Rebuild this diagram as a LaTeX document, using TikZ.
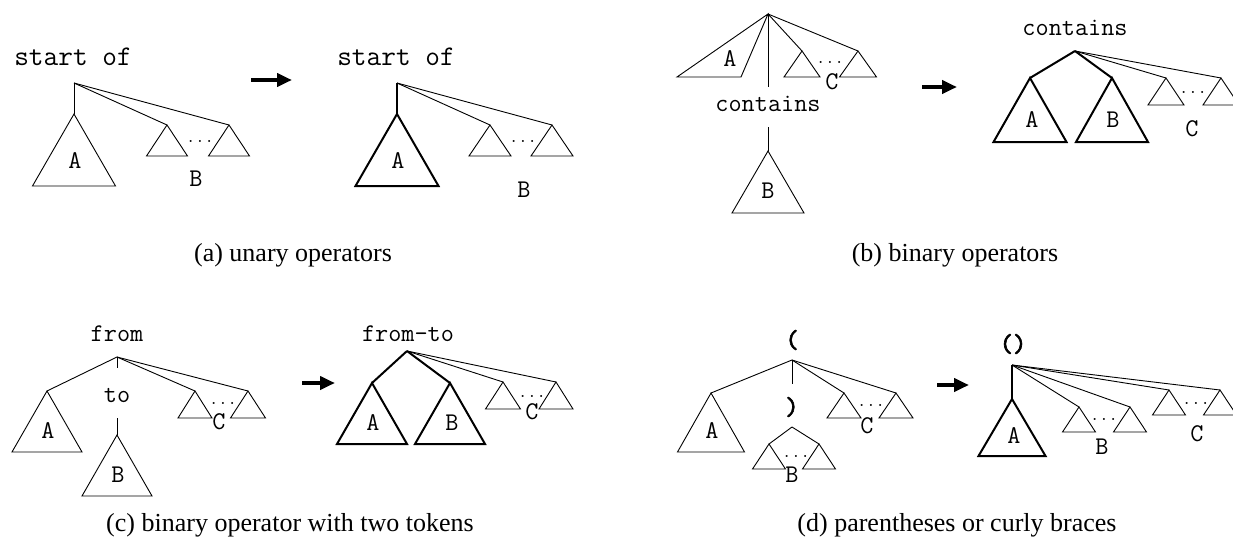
\documentclass[tikz,border=0pt]{standalone}
\usepackage{fontspec}
\setmainfont{Liberation Serif}
\newfontfamily\ttheavy[Extension=.otf,FakeBold=2.5]{lmmono10-regular}
\usetikzlibrary{arrows.meta}
\newcommand\Tri[4][tl]{\draw[#1] (#2) -- ++(-#3,#4) -- ++(2*#3,0) -- cycle;}
\tikzset{
  tl/.style={line width=0.9pt},
  tk/.style={line width=2pt},
  lab/.style={font=\fontsize{25.5}{25.5}\selectfont\ttfamily, inner sep=0pt, anchor=base},
  biglab/.style={font=\fontsize{28.5}{28.5}\selectfont\ttfamily, inner sep=0pt, anchor=base},
  parlab/.style={font=\fontsize{25.5}{25.5}\selectfont\ttheavy, inner sep=0pt},
  dts/.style={font=\fontsize{18}{18}\selectfont\ttfamily, inner sep=0pt},
  captxt/.style={font=\fontsize{26}{26}\selectfont\rmfamily, inner sep=0pt, anchor=base},
  bigarrow/.style={line width=4.5pt,-{Triangle[length=15pt,width=13pt]}}
}
\begin{document}
\begin{tikzpicture}[x=1pt,y=-1pt,line join=miter]
\useasboundingbox (0,0) rectangle (1233,546);
% ===== (a) left
\node[biglab] (aLt) at (73,65) {start of};
\coordinate (aLr) at (74,83);
\coordinate (aLa) at (74,114);
\coordinate (aLc1) at (167,125);
\coordinate (aLc2) at (229,125);
\draw[tl] (aLr) -- (aLa);
\draw[tl] (aLr) -- (aLc1);
\draw[tl] (aLr) -- (aLc2);
\Tri{aLa}{41.5}{72}
\Tri{aLc1}{20.5}{31}
\Tri{aLc2}{20.5}{31}
\node[lab] (aLA) at (75,168) {A};
\node[lab] (aLB) at (196,186) {B};
\node[dts] (aLd) at (200,141) {...};
% arrow a
\coordinate (arA1) at (251,80);
\coordinate (arA2) at (292,80);
\draw[bigarrow] (arA1) -- (arA2);
% ===== (a) right
\node[biglab] (aRt) at (396,65) {start of};
\coordinate (aRr) at (397,83);
\coordinate (aRa) at (397,114);
\coordinate (aRc1) at (490,125);
\coordinate (aRc2) at (552,125);
\draw[tk] (aRr) -- (aRa);
\draw[tl] (aRr) -- (aRc1);
\draw[tl] (aRr) -- (aRc2);
\Tri[tk]{aRa}{41.5}{72}
\Tri{aRc1}{21}{31}
\Tri{aRc2}{21}{31}
\node[lab] (aRA) at (398,168) {A};
\node[lab] (aRB) at (524,197) {B};
\node[dts] (aRd) at (523,141) {...};
\node[captxt] (capa) at (293,261) {(a) unary operators};
% ===== (b) left
\coordinate (bLr) at (768,14);
\coordinate (bLa1) at (677,77);
\coordinate (bLa2) at (741,77);
\coordinate (bLv) at (768,87);
\coordinate (bLw) at (768,127);
\coordinate (bLb) at (768,151);
\coordinate (bLc1) at (802,51);
\coordinate (bLc2) at (858,51);
\draw[tl] (bLr) -- (bLa1) -- (bLa2) -- cycle;
\draw[tl] (bLr) -- (bLv);
\draw[tl] (bLr) -- (bLc1);
\draw[tl] (bLr) -- (bLc2);
\Tri{bLc1}{18}{26}
\Tri{bLc2}{18.5}{26}
\node[lab] (bLt) at (768,111) {contains};
\draw[tl] (bLw) -- (bLb);
\Tri{bLb}{36}{62}
\node[lab] (bLA) at (730,66) {A};
\node[lab] (bLB) at (768,198) {B};
\node[lab] (bLC) at (832,89) {C};
\node[dts] (bLd) at (830,62) {...};
% arrow b
\coordinate (arB1) at (922,87);
\coordinate (arB2) at (957,87);
\draw[bigarrow] (arB1) -- (arB2);
% ===== (b) right
\node[lab] (bRt) at (1075,35) {contains};
\coordinate (bRr) at (1075,51);
\coordinate (bRa) at (1030,78);
\coordinate (bRb) at (1112,78);
\coordinate (bRc1) at (1166,78);
\coordinate (bRc2) at (1221,78);
\draw[tk] (bRr) -- (bRa);
\draw[tk] (bRr) -- (bRb);
\draw[tl] (bRr) -- (bRc1);
\draw[tl] (bRr) -- (bRc2);
\Tri[tk]{bRa}{36.5}{64}
\Tri[tk]{bRb}{36}{64}
\Tri{bRc1}{18}{27}
\Tri{bRc2}{18}{27}
\node[lab] (bRA) at (1032,127) {A};
\node[lab] (bRB) at (1113,127) {B};
\node[lab] (bRC) at (1192,136) {C};
\node[dts] (bRd) at (1193,92) {...};
\node[captxt] (capb) at (955,261) {(b) binary operators};
% ===== (c) left
\node[lab] (cLt) at (117,341) {from};
\coordinate (cLr) at (117,357);
\coordinate (cLa) at (47,391);
\coordinate (cLv) at (117,368);
\coordinate (cLw) at (117,418);
\coordinate (cLb) at (117,435);
\coordinate (cLc1) at (195,391);
\coordinate (cLc2) at (248,391);
\draw[tl] (cLr) -- (cLa);
\draw[tl] (cLr) -- (cLv);
\draw[tl] (cLr) -- (cLc1);
\draw[tl] (cLr) -- (cLc2);
\draw[tl] (cLw) -- (cLb);
\Tri{cLa}{35}{61}
\Tri{cLb}{35}{61}
\Tri{cLc1}{17}{27}
\Tri{cLc2}{17.5}{27}
\node[lab] (cLto) at (117,402) {to};
\node[lab] (cLA) at (48,438) {A};
\node[lab] (cLB) at (118,482) {B};
\node[lab] (cLC) at (219,429) {C};
\node[dts] (cLd) at (223,403) {...};
% arrow c
\coordinate (arC1) at (302,383);
\coordinate (arC2) at (335,383);
\draw[bigarrow] (arC1) -- (arC2);
% ===== (c) right
\node[lab] (cRt) at (408,341) {from-to};
\coordinate (cRr) at (407,351);
\coordinate (cRa) at (372,383);
\coordinate (cRb) at (450,383);
\coordinate (cRc1) at (503,382);
\coordinate (cRc2) at (556,382);
\draw[tk] (cRr) -- (cRa);
\draw[tk] (cRr) -- (cRb);
\draw[tl] (cRr) -- (cRc1);
\draw[tl] (cRr) -- (cRc2);
\Tri[tk]{cRa}{35}{61}
\Tri[tk]{cRb}{35}{61}
\Tri{cRc1}{17.5}{27}
\Tri{cRc2}{17}{27}
\node[lab] (cRA) at (373,430) {A};
\node[lab] (cRB) at (452,430) {B};
\node[lab] (cRC) at (532,419) {C};
\node[dts] (cRd) at (532,396) {...};
\node[captxt] (capc) at (290,531) {(c) binary operator with two tokens};
% ===== (d) left
\node[parlab] (dLo) at (792,340) {(};
\coordinate (dLr) at (792,360);
\coordinate (dLa) at (711,393);
\coordinate (dLv) at (792,384);
\coordinate (dLbr) at (792,427);
\coordinate (dLb1) at (769,444);
\coordinate (dLb2) at (819,444);
\coordinate (dLc1) at (844,393);
\coordinate (dLc2) at (896,393);
\draw[tl] (dLr) -- (dLa);
\draw[tl] (dLr) -- (dLv);
\draw[tl] (dLr) -- (dLc1);
\draw[tl] (dLr) -- (dLc2);
\draw[tl] (dLbr) -- (dLb1);
\draw[tl] (dLbr) -- (dLb2);
\Tri{dLa}{33.5}{59}
\Tri{dLb1}{16.5}{25}
\Tri{dLb2}{16.5}{25}
\Tri{dLc1}{17}{25}
\Tri{dLc2}{17}{25}
\node[parlab] (dLcl) at (792,407) {)};
\node[lab] (dLA) at (712,438) {A};
\node[lab] (dLB) at (792,482) {B};
\node[lab] (dLC) at (867,433) {C};
\node[dts] (dLdb) at (796,456) {...};
\node[dts] (dLdc) at (871,405) {...};
% arrow d
\coordinate (arD1) at (937,385);
\coordinate (arD2) at (969,385);
\draw[bigarrow] (arD1) -- (arD2);
% ===== (d) right
\node[parlab] (dRo) at (1013,344) {()};
\coordinate (dRr) at (1012,365);
\coordinate (dRa) at (1012,399);
\coordinate (dRb1) at (1079,407);
\coordinate (dRb2) at (1130,407);
\coordinate (dRc1) at (1169,390);
\coordinate (dRc2) at (1220,390);
\draw[tk] (dRr) -- (dRa);
\draw[tl] (dRr) -- (dRb1);
\draw[tl] (dRr) -- (dRb2);
\draw[tl] (dRr) -- (dRc1);
\draw[tl] (dRr) -- (dRc2);
\Tri[tk]{dRa}{33.5}{57}
\Tri{dRb1}{16.5}{25}
\Tri{dRb2}{16.5}{25}
\Tri{dRc1}{16.5}{25}
\Tri{dRc2}{16.5}{25}
\node[lab] (dRA) at (1014,443) {A};
\node[lab] (dRB) at (1102,454) {B};
\node[lab] (dRC) at (1197,441) {C};
\node[dts] (dRdb) at (1104,419) {...};
\node[dts] (dRdc) at (1196,403) {...};
\node[captxt] (capd) at (957,531) {(d) parentheses or curly braces};
\end{tikzpicture}
\end{document}
